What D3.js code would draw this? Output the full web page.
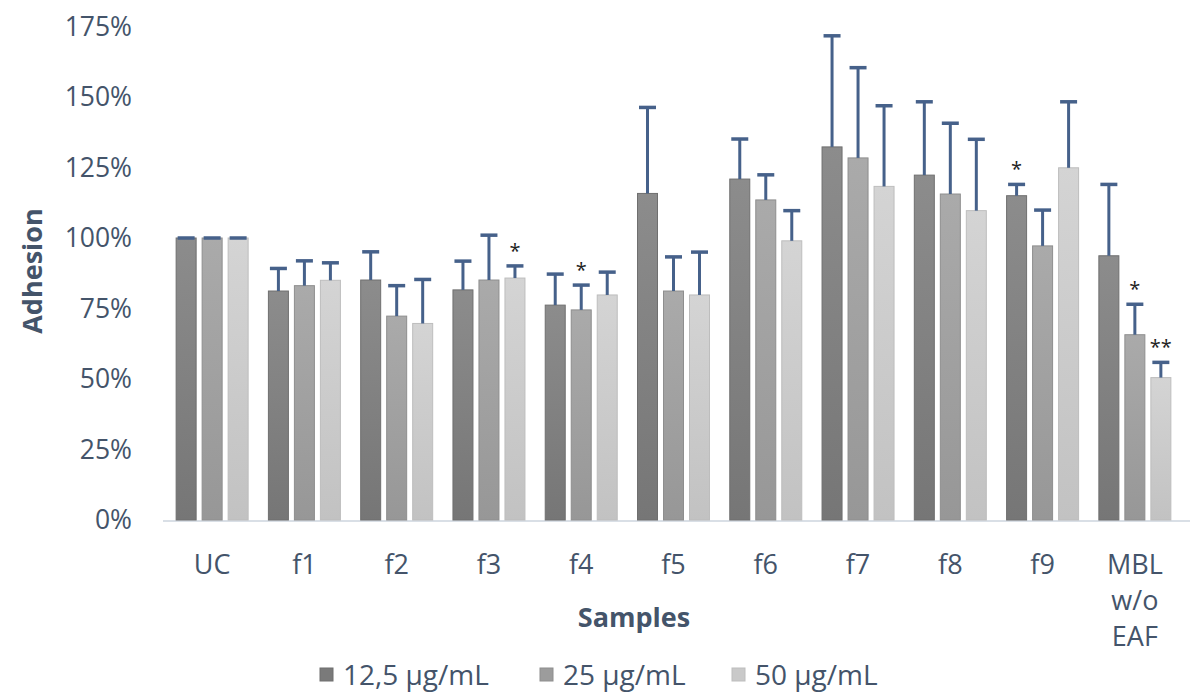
<!DOCTYPE html>
<html><head><meta charset="utf-8">
<script src="https://cdn.jsdelivr.net/npm/d3@7"></script>
<style>body{margin:0;background:#fff;}svg{display:block;font-family:"Open Sans",sans-serif;}</style>
</head><body><svg id="c" width="1192" height="695"></svg>
<script>
const categories = ["UC","f1","f2","f3","f4","f5","f6","f7","f8","f9","MBL w/o EAF"];
const seriesNames = ["12,5 µg/mL","25 µg/mL","50 µg/mL"];
const means12 = [100,81.2,85.1,81.6,76.2,115.8,120.9,132.3,122.3,115.0,93.7];
const means25 = [100,83.1,72.3,85.1,74.5,81.2,113.5,128.4,115.6,97.2,65.7];
const means50 = [100,85.0,69.7,85.8,79.8,79.8,99.0,118.3,109.7,124.9,50.5];
const err12 = [0,8.0,10.0,10.2,11.0,30.5,14.2,39.4,26.0,4.0,25.3];
const err25 = [0,8.8,10.8,15.9,8.8,12.1,8.9,32.0,25.1,12.7,10.8];
const err50 = [0,6.2,15.6,4.3,8.1,15.2,10.7,28.6,25.3,23.4,5.4];
const yTicks = [0,25,50,75,100,125,150,175];
const marks = [{cat:"f3",s:2,t:"*"},{cat:"f4",s:1,t:"*"},{cat:"f9",s:0,t:"*"},{cat:"MBL w/o EAF",s:1,t:"*"},{cat:"MBL w/o EAF",s:2,t:"**"}];

const means=[means12,means25,means50], errs=[err12,err25,err50];
const svg=d3.select("#c");
const textCol="#44546a", errCol="#46618a";
const x=d3.scaleBand().domain(categories).range([166,1181]).paddingInner(0).paddingOuter(0);
const y=d3.scaleLinear().domain([0,175]).range([520,26.5]);
const xs=d3.scaleBand().domain([0,1,2]).range([0,78]);
const groupOff=(x.bandwidth()-78)/2;
const barW=20;

const defs=svg.append("defs");
const grads=[["#8c8c8c","#767676"],["#aaaaaa","#979797"],["#d4d4d4","#c2c2c2"]];
grads.forEach((g,i)=>{const lg=defs.append("linearGradient").attr("id","g"+i).attr("x1",0).attr("y1",0).attr("x2",0).attr("y2",1);
 lg.append("stop").attr("offset","0%").attr("stop-color",g[0]);lg.append("stop").attr("offset","100%").attr("stop-color",g[1]);});
const strokes=["#6f6f6f","#8e8e8e","#bdbdbd"];

// y tick labels
svg.append("g").selectAll("text").data(yTicks).join("text")
 .attr("x",132).attr("y",d=>y(d)).attr("dy","0.35em").attr("text-anchor","end")
 .attr("font-size",26.5).attr("fill",textCol).text(d=>d+"%");

// baseline
svg.append("line").attr("x1",163).attr("x2",1190).attr("y1",y(0)+1).attr("y2",y(0)+1).attr("stroke","#d9dfe6").attr("stroke-width",2);

// bars
categories.forEach((c,ci)=>{
 [0,1,2].forEach(s=>{
  const bx=x(c)+groupOff+xs(s)+(xs.bandwidth()-barW)/2;
  const v=means[s][ci];
  svg.append("rect").attr("x",bx).attr("y",y(v)).attr("width",barW).attr("height",y(0)-y(v))
   .attr("fill","url(#g"+s+")").attr("stroke",strokes[s]).attr("stroke-width",1);
  const e=errs[s][ci], cx=bx+barW/2;
  svg.append("line").attr("x1",cx).attr("x2",cx).attr("y1",y(v)).attr("y2",y(v+e)).attr("stroke",errCol).attr("stroke-width",3);
  svg.append("line").attr("x1",cx-8.5).attr("x2",cx+8.5).attr("y1",y(v+e)).attr("y2",y(v+e)).attr("stroke",errCol).attr("stroke-width",3.5);
 });
});

// significance marks
marks.forEach(m=>{
 const ci=categories.indexOf(m.cat);
 const cx=x(m.cat)+groupOff+xs(m.s)+xs.bandwidth()/2;
 const top=y(means[m.s][ci]+errs[m.s][ci]);
 svg.append("text").attr("x",cx).attr("y",top-8).attr("text-anchor","middle").attr("font-size",20).attr("fill","#222").text(m.t);
});

// x labels
categories.forEach(c=>{
 const t=svg.append("text").attr("text-anchor","middle").attr("font-size",27).attr("fill",textCol);
 c.split(" ").forEach((w,i)=>t.append("tspan").attr("x",x(c)+x.bandwidth()/2).attr("y",574+i*36).text(w));
});

// axis titles
svg.append("text").attr("transform","translate(42,271) rotate(-90)").attr("text-anchor","middle")
 .attr("font-size",27).attr("font-weight","bold").attr("fill",textCol).text("Adhesion");
svg.append("text").attr("x",634).attr("y",627).attr("text-anchor","middle")
 .attr("font-size",27).attr("font-weight","bold").attr("fill",textCol).text("Samples");

// legend
const legX=[320,540,732];
const legFill=["#7a7a7a","#9c9c9c","#c9c9c9"];
seriesNames.forEach((n,i)=>{
 svg.append("rect").attr("x",legX[i]).attr("y",668).attr("width",13).attr("height",13).attr("fill",legFill[i]).attr("stroke",strokes[i]);
 svg.append("text").attr("x",legX[i]+23).attr("y",675).attr("dy","0.35em").attr("font-size",28).attr("fill",textCol).text(n);
});
</script></body></html>
